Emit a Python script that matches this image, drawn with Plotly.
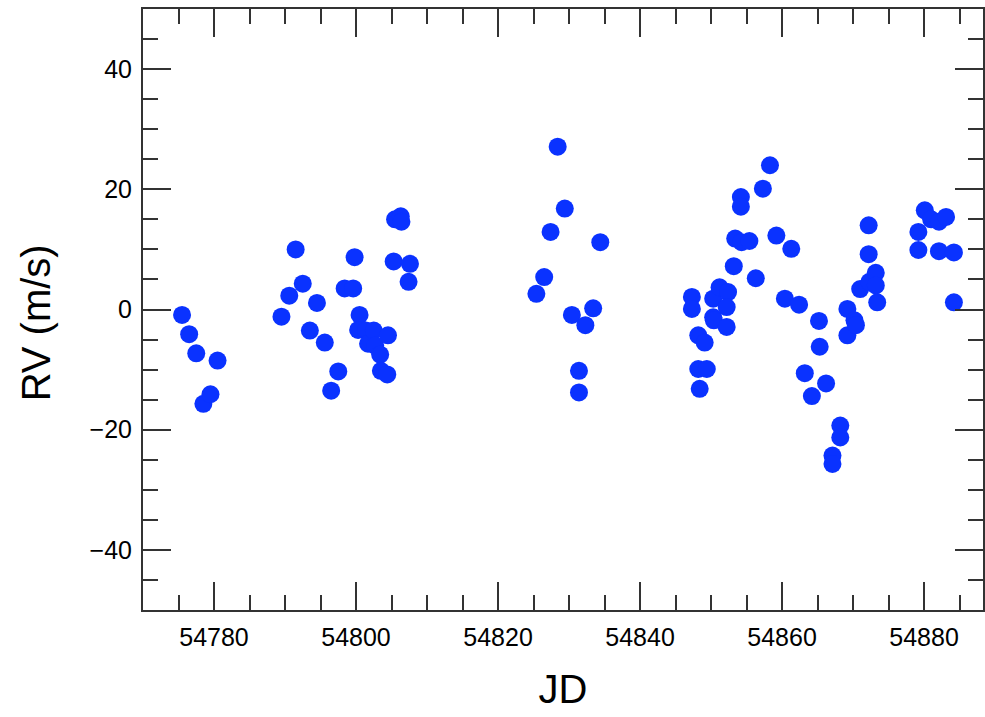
import plotly.graph_objects as go

jd = [
    54775.5, 54776.5, 54777.5, 54778.5, 54779.5, 54780.5,
    54789.5, 54790.6, 54791.5, 54792.5, 54793.5, 54794.5, 54795.6, 54796.5,
    54797.5, 54798.4, 54799.6, 54799.8, 54800.5, 54800.3, 54801.4, 54801.7,
    54802.5, 54802.7, 54803.4, 54804.5, 54803.5, 54804.4, 54805.3, 54805.5,
    54806.3, 54806.4, 54807.6, 54807.4,
    54825.4, 54826.5, 54827.4, 54828.4, 54829.4, 54830.4, 54831.4, 54831.4,
    54832.3, 54833.4, 54834.4,
    54847.3, 54847.3, 54848.2, 54849.1, 54848.2, 54849.4, 54848.4, 54850.3,
    54850.3, 54850.4, 54851.2, 54852.4, 54852.2, 54852.2, 54853.2, 54853.4,
    54854.3, 54855.4, 54854.2, 54854.2, 54856.3, 54857.3, 54858.3, 54859.2,
    54860.4, 54861.3, 54862.4, 54863.2, 54864.2, 54865.2, 54865.3, 54866.2,
    54867.1, 54867.1, 54868.2, 54868.2, 54869.2, 54869.2, 54870.2, 54870.4,
    54871.0, 54872.2, 54872.2, 54872.3, 54873.2, 54873.2, 54873.4,
    54879.2, 54879.2, 54880.1, 54881.0, 54882.1, 54883.1, 54882.1, 54884.2,
    54884.2,
]
rv = [
    -0.9, -4.1, -7.3, -15.7, -14.1, -8.5,
    -1.2, 2.3, 10.0, 4.3, -3.5, 1.1, -5.5, -13.5,
    -10.3, 3.5, 3.5, 8.7, -0.9, -3.4, -3.5, -5.7,
    -3.5, -6.0, -7.5, -4.3, -10.2, -10.8, 8.0, 15.0,
    15.5, 14.6, 7.6, 4.6,
    2.6, 5.4, 12.9, 27.1, 16.8, -0.9, -10.2, -13.8,
    -2.6, 0.2, 11.2,
    2.1, 0.1, -4.3, -5.5, -9.9, -9.9, -13.2, 1.8,
    -1.3, -1.8, 3.7, 2.9, 0.4, -2.9, 7.2, 11.8,
    11.2, 11.4, 18.7, 17.1, 5.2, 20.1, 24.0, 12.3,
    1.8, 10.1, 0.8, -10.6, -14.4, -1.9, -6.2, -12.3,
    -24.3, -25.7, -19.3, -21.3, 0.1, -4.3, -1.8, -2.6,
    3.4, 14.0, 9.2, 4.6, 6.1, 4.0, 1.2,
    12.9, 9.9, 16.5, 15.0, 14.6, 15.4, 9.7, 9.5,
    1.2,
]

x_range = [54770, 54888.3]
y_range = [-50, 50]
x_title = "JD"
y_title = "RV (m/s)"

fig = go.Figure(
    go.Scatter(
        x=jd, y=rv, mode="markers",
        marker=dict(size=18, color="#0a32ff", line=dict(width=0)),
    )
)

font_family = "Liberation Sans, Arial, sans-serif"
axis_common = dict(
    showgrid=False, zeroline=False,
    showline=True, linecolor="#333333", linewidth=2,
    mirror="ticks", ticks="inside", ticklen=28, tickwidth=1.5, tickcolor="#333333",
    tickfont=dict(family=font_family, size=25, color="black"),
)

fig.update_xaxes(
    range=x_range, dtick=20, tick0=54780, tickformat="d",
    minor=dict(ticks="inside", ticklen=15, dtick=5, tickwidth=1.5, tickcolor="#333333"),
    title=dict(text=x_title, font=dict(family=font_family, size=40, color="black"), standoff=25),
    ticklabelstandoff=4,
    **axis_common,
)
fig.update_yaxes(
    range=y_range, dtick=20, tick0=0,
    minor=dict(ticks="inside", ticklen=15, dtick=5, tickwidth=1.5, tickcolor="#333333"),
    ticklabelstandoff=4,
    **axis_common,
)

fig.add_annotation(
    text=y_title, textangle=-90,
    xref="paper", yref="paper", x=-0.127, y=0.4775,
    xanchor="center", yanchor="middle", showarrow=False,
    font=dict(family=font_family, size=40, color="black"),
)

fig.update_layout(
    width=985, height=717,
    margin=dict(l=143, r=0, t=9, b=107),
    plot_bgcolor="white", paper_bgcolor="white",
    showlegend=False,
)

fig.write_html("out.html")
